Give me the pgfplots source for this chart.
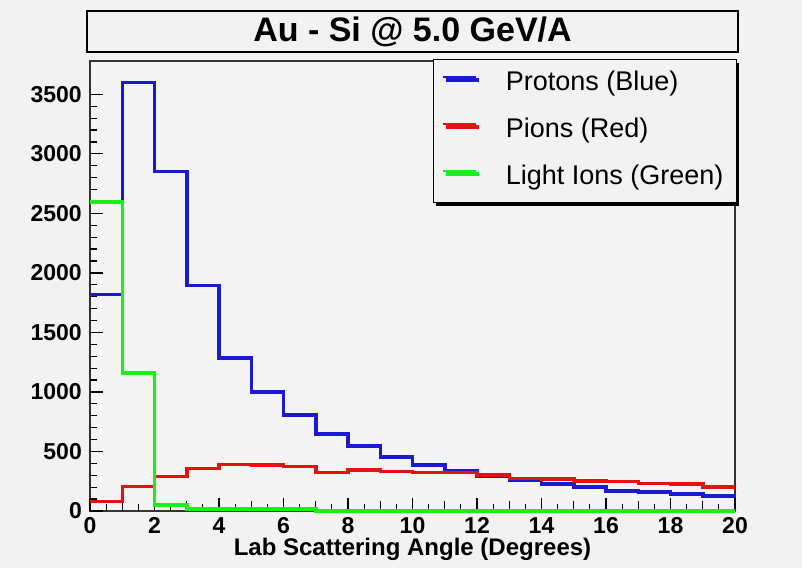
\documentclass[border=0pt]{standalone}
\usepackage{pgfplots}
\pgfplotsset{compat=1.18}
\usepackage{fontspec}
\setmainfont{Liberation Sans}
\usetikzlibrary{shadows}

\definecolor{canvas}{HTML}{F2F2F2}
\definecolor{pad}{HTML}{F4F4F4}
\definecolor{hblue}{HTML}{1A1AD2}
\definecolor{hred}{HTML}{E81010}
\definecolor{hgreen}{HTML}{18F018}

% counts per 1-degree bin, left bin edges; last point repeats the final bin
\pgfplotstableread{
x    protons pions lightions
0    1820    78    2594
1    3600    204   1160
2    2852    288   50
3    1896    358   15
4    1284    392   15
5    998     386   15
6    805     372   15
7    646     325   0
8    545     344   0
9    453     330   0
10   386     325   0
11   336     325   0
12   294     302   0
13   260     274   0
14   226     268   0
15   201     254   0
16   168     246   0
17   159     232   0
18   143     226   0
19   126     201   0
20   126     201   0
}\angles

\begin{document}
\begin{tikzpicture}[x=1pt,y=1pt]
\fill[canvas] (0,0) rectangle (802,568);
\useasboundingbox (0,0) rectangle (802,568);

% title box
\draw[line width=1.8pt, fill=canvas] (87,516) rectangle (738,557);
\node[font=\fontsize{34}{40}\selectfont\bfseries] at (412.5,536.5) {Au - Si @ 5.0 GeV/A};

\begin{axis}[
    at={(90pt,57pt)}, anchor=south west,
    width=645pt, height=450pt, scale only axis,
    xmin=0, xmax=20, ymin=0, ymax=3780,
    % frame drawn with the background so the histograms lie over it
    axis background/.style={fill=pad, draw=black!80, line width=1.6pt},
    axis line style={draw=none},
    tick style={line width=1.2pt, black},
    tick align=inside,
    xtick pos=bottom, ytick pos=left,
    xtick={0,2,...,20}, minor x tick num=3,
    ytick={0,500,...,3500}, minor y tick num=4,
    major tick length=13pt, minor tick length=7pt,
    extra x ticks={1,3,...,19}, extra x tick labels={},
    extra x tick style={major tick length=10pt},
    scaled y ticks=false,
    /pgf/number format/1000 sep={},
    /pgf/number format/assume math mode=true,
    ticklabel style={font=\fontsize{23}{27}\selectfont\bfseries},
    yticklabel style={inner xsep=0pt, xshift=-8pt},
    xticklabel style={inner ysep=0pt, yshift=-6pt},
    xlabel={Lab Scattering Angle (Degrees)},
    xlabel style={font=\fontsize{24}{28}\selectfont\bfseries, at={(axis description cs:0.5,0)},
        anchor=north, yshift=-27pt, inner sep=0pt},
    clip=false,
    legend cell align=left,
    legend image code/.code={\draw[#1, line width=2.5pt] (0pt,7pt) -- (33pt,7pt);},
    legend style={at={(axis description cs:1,1)}, anchor=north east, xshift=2pt, yshift=2pt,
        draw=black, line width=1.2pt, fill=canvas,
        font=\fontsize{27}{31}\selectfont,
        inner xsep=8pt, inner ysep=7pt, row sep=12pt, column sep=24pt,
        drop shadow={shadow xshift=3pt, shadow yshift=-3pt, fill=black, opacity=1},
        nodes={text height=20pt, text depth=7pt, inner ysep=4pt, inner xsep=5pt}},
]
\addplot[const plot, hblue, line width=3.5pt] table[x=x, y=protons] {\angles};
\addlegendentry{Protons (Blue)}
\addplot[const plot, hred, line width=3.5pt] table[x=x, y=pions] {\angles};
\addlegendentry{Pions (Red)}
\addplot[const plot, hgreen, line width=3.5pt] table[x=x, y=lightions] {\angles};
\addlegendentry{Light Ions (Green)}
\end{axis}
\end{tikzpicture}
\end{document}
